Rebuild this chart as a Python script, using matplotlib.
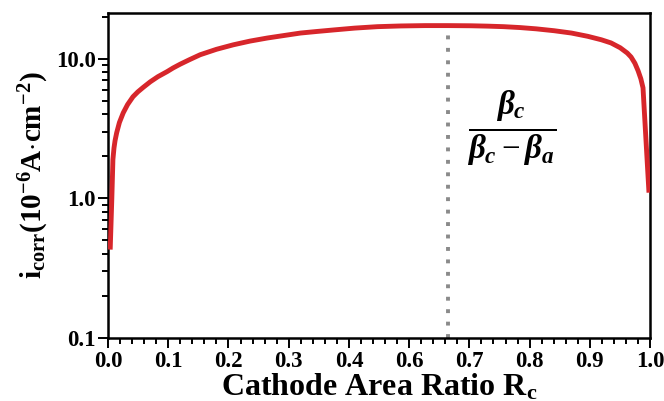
import matplotlib
matplotlib.use("Agg")
import matplotlib.pyplot as plt
import numpy as np
from matplotlib.ticker import FixedLocator, NullFormatter

plt.rcParams["font.family"] = ["Liberation Serif", "DejaVu Serif"]
plt.rcParams["mathtext.fontset"] = "custom"
plt.rcParams["mathtext.rm"] = "Liberation Serif"
plt.rcParams["mathtext.it"] = "Liberation Serif:italic:bold"
plt.rcParams["mathtext.bf"] = "Liberation Serif:bold"

# corrosion current vs. cathode area ratio (x as position along the axis)
rc = [0.004, 0.007, 0.009, 0.011, 0.013, 0.016, 0.021, 0.028, 0.036, 0.046,
      0.055, 0.065, 0.078, 0.092, 0.109, 0.120, 0.133, 0.150, 0.170, 0.200,
      0.231, 0.262, 0.294, 0.325, 0.355, 0.385, 0.416, 0.455, 0.497, 0.540,
      0.585, 0.627, 0.670, 0.700, 0.730, 0.760, 0.790, 0.823, 0.855, 0.885,
      0.910, 0.928, 0.945, 0.958, 0.965, 0.972, 0.978, 0.983, 0.987, 0.998]
icorr = [0.43, 1.0, 1.9, 2.3, 2.6, 2.96, 3.5, 4.1, 4.7, 5.35,
         5.8, 6.25, 6.85, 7.45, 8.1, 8.6, 9.15, 9.85, 10.7, 11.7,
         12.6, 13.4, 14.1, 14.7, 15.3, 15.7, 16.1, 16.6, 17.0, 17.2,
         17.3, 17.3, 17.25, 17.15, 17.0, 16.75, 16.4, 15.9, 15.3, 14.5,
         13.7, 13.0, 12.0, 11.0, 10.3, 9.3, 8.2, 7.2, 6.2, 1.1]

peak_rc = 0.628
peak_i = 17.3

xtick_pos = np.linspace(0, 1, 10)
xtick_labels = ["0.0", "0.1", "0.2", "0.3", "0.4", "0.6", "0.7", "0.8", "0.9", "1.0"]
ytick_pos = [0.1, 1.0, 10.0]
ytick_labels = ["0.1", "1.0", "10.0"]

fig = plt.figure(figsize=(6.64, 4.01), dpi=100)
ax = fig.add_axes([0.1627, 0.157, 0.8163, 0.8106])

ax.plot(rc, icorr, color="#D7262B", lw=3.5, solid_capstyle="butt",
        solid_joinstyle="round", zorder=3)
ax.plot([peak_rc, peak_rc], [0.1, peak_i], color="#8A8A8A", lw=2.8,
        dashes=(1, 2.2), dash_capstyle="butt", zorder=2)

ax.text(0.745, 0.645, r"$\frac{\beta_c}{\beta_c-\beta_a}$", transform=ax.transAxes,
        fontsize=34, ha="center", va="center")

ax.set_yscale("log")
ax.set_xlim(0, 1)
ax.set_ylim(0.1, 21.3)

ax.xaxis.set_major_locator(FixedLocator(xtick_pos))
ax.set_xticklabels(xtick_labels)
minor_x = [p + k * (1 / 9) / 5 for p in xtick_pos[:-1] for k in range(1, 5)]
ax.xaxis.set_minor_locator(FixedLocator(minor_x))

ax.yaxis.set_major_locator(FixedLocator(ytick_pos))
ax.set_yticklabels(ytick_labels)
minor_y = [m * d for d in (0.1, 1.0, 10.0) for m in range(2, 10) if m * d < 21.3]
ax.yaxis.set_minor_locator(FixedLocator(minor_y))
ax.yaxis.set_minor_formatter(NullFormatter())

for s in ax.spines.values():
    s.set_linewidth(1.8)
ax.tick_params(which="both", direction="out", top=False, right=False, width=1.4)
ax.tick_params(which="major", length=7, labelsize=16.5, pad=2)
ax.tick_params(which="minor", length=4)
for lab in ax.get_xticklabels() + ax.get_yticklabels():
    lab.set_fontweight("bold")

ax.set_xlabel(r"Cathode Area Ratio R$_\mathbf{c}$", fontsize=23, fontweight="bold", labelpad=0)
ax.set_ylabel(r"$\mathbf{i_{corr}(10^{-6}A{\cdot}cm^{-2})}$", fontsize=21, labelpad=3)

fig.savefig("out.png", dpi=100)
